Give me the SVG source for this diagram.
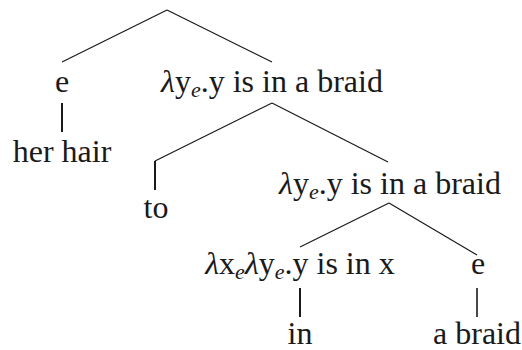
<svg xmlns="http://www.w3.org/2000/svg" width="522" height="350" viewBox="0 0 522 350">
<style>
.t{font-size:32px;fill:#1a1a1a;text-anchor:middle}
.sub{font-size:22px;font-style:italic}
.lam{font-style:italic}
.edge{stroke:#1a1a1a;stroke-width:1.2;fill:none}
.stem{stroke:#1a1a1a;stroke-width:2;fill:none}
</style>
<rect width="522" height="350" fill="#ffffff"/>
<g id="connectors">
<line class="edge" x1="167" y1="10" x2="62" y2="62"/>
<line class="edge" x1="167" y1="10" x2="272" y2="62"/>
<line class="stem" x1="62" y1="103" x2="62" y2="132"/>
<line class="edge" x1="272" y1="103" x2="155" y2="161"/>
<line class="edge" x1="272" y1="103" x2="388" y2="162"/>
<line class="stem" x1="155" y1="161" x2="155" y2="190"/>
<line class="edge" x1="389" y1="203" x2="300" y2="247"/>
<line class="edge" x1="389" y1="203" x2="477" y2="255"/>
<line class="stem" x1="300" y1="288" x2="300" y2="317"/>
<line class="stem" x1="477" y1="288" x2="477" y2="317" style="stroke-width:1.6"/>
</g>
<g id="nodes" font-family="Liberation Serif, DejaVu Serif, serif">
<g id="n-e1"><text class="t" x="62" y="92">e</text></g>
<g id="n-herhair"><text class="t" x="62" y="162">her hair</text></g>
<g id="n-vp1"><text class="t" x="272" y="92"><tspan class="lam">λ</tspan>y<tspan class="sub" dy="5">e</tspan><tspan dy="-5">.y is in a braid</tspan></text></g>
<g id="n-to"><text class="t" x="156" y="218">to</text></g>
<g id="n-vp2"><text class="t" x="390" y="194"><tspan class="lam">λ</tspan>y<tspan class="sub" dy="5">e</tspan><tspan dy="-5">.y is in a braid</tspan></text></g>
<g id="n-in-type"><text class="t" x="300" y="274"><tspan class="lam">λ</tspan>x<tspan class="sub" dy="5">e</tspan><tspan class="lam" dy="-5">λ</tspan>y<tspan class="sub" dy="5">e</tspan><tspan dy="-5">.y is in x</tspan></text></g>
<g id="n-e2"><text class="t" x="478" y="274">e</text></g>
<g id="n-in"><text class="t" x="300" y="344">in</text></g>
<g id="n-abraid"><text class="t" x="477" y="344">a braid</text></g>
</g>
</svg>
